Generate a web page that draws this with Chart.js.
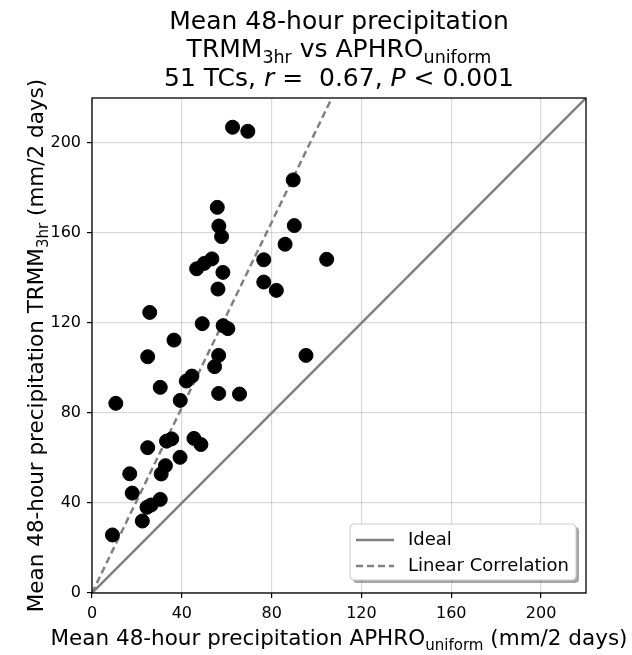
<!DOCTYPE html>
<html>
<head>
<meta charset="utf-8">
<script src="https://cdn.jsdelivr.net/npm/chart.js@4.4.1/dist/chart.umd.min.js"></script>
<style>
  html, body { margin: 0; padding: 0; background: #fff; }
</style>
</head>
<body>
<canvas id="scatterChart" width="632" height="655"></canvas>
<script>
// Datos (mm/2 dias)
const aphro = [62.6, 69.4, 89.6, 55.8, 56.5, 57.7, 90.1, 86.0, 76.5, 104.5,
               76.5, 82.1, 95.3, 46.6, 50.0, 53.4, 58.3, 56.1, 25.7, 49.1,
               58.4, 60.5, 36.5, 24.8, 56.4, 54.6, 44.5, 42.0, 30.4, 56.4,
               65.7, 10.6, 39.3, 33.2, 35.5, 45.4, 48.5, 24.8, 39.2, 32.7,
               30.8, 16.8, 17.9, 30.4, 26.3, 24.5, 22.4, 9.1];
const trmm = [207.0, 205.2, 183.6, 171.4, 163.1, 158.4, 163.3, 155.0, 148.1, 148.3,
              138.2, 134.5, 105.6, 144.1, 146.5, 148.5, 142.5, 135.1, 124.7, 119.7,
              118.8, 117.5, 112.4, 105.0, 105.6, 100.6, 96.4, 94.2, 91.4, 88.7,
              88.4, 84.3, 85.6, 67.5, 68.5, 68.7, 66.0, 64.6, 60.3, 56.6,
              52.9, 53.0, 44.4, 41.6, 39.1, 38.1, 32.0, 25.8];
const idealX = [0, 220];
const idealY = [0, 220];
const fitX = [0, 106.8];
const fitY = [0, 220];
const axisTicks = [0, 40, 80, 120, 160, 200];

const FONT = '"DejaVu Sans", sans-serif';
const GRAY = '#808080';

function toPoints(xs, ys) {
    return xs.map((x, i) => ({ x: x, y: ys[i] }));
}

// texto con subindices / cursiva
function runFont(r, size) {
    const s = r.sub ? size * 0.7 : size;
    return (r.italic ? 'italic ' : '') + s + 'px ' + FONT;
}
function drawRich(ctx, runs, cx, baseY, size) {
    let w = 0;
    runs.forEach(r => { ctx.font = runFont(r, size); w += ctx.measureText(r.t).width; });
    let x = cx - w / 2;
    ctx.textAlign = 'left';
    ctx.textBaseline = 'alphabetic';
    runs.forEach(r => {
        ctx.font = runFont(r, size);
        ctx.fillText(r.t, x, r.sub ? baseY + size * 0.22 : baseY);
        x += ctx.measureText(r.t).width;
    });
}

const textPlugin = {
    id: 'textPlugin',
    afterDraw(chart) {
        const ctx = chart.ctx;
        const a = chart.chartArea;
        const cx = (a.left + a.right) / 2;
        ctx.save();
        ctx.fillStyle = '#000';

        // marco
        ctx.strokeStyle = '#000';
        ctx.lineWidth = 1.3;
        ctx.strokeRect(a.left, a.top, a.right - a.left, a.bottom - a.top);

        // titulo
        drawRich(ctx, [{ t: 'Mean 48-hour precipitation' }], cx, 29, 25);
        drawRich(ctx, [{ t: 'TRMM' }, { t: '3hr', sub: true }, { t: ' vs APHRO' }, { t: 'uniform', sub: true }], cx, 57, 25);
        drawRich(ctx, [{ t: '51 TCs, ' }, { t: 'r', italic: true }, { t: ' =  0.67, ' }, { t: 'P', italic: true }, { t: ' < 0.001' }], cx, 86, 25);

        // titulos de ejes
        drawRich(ctx, [{ t: 'Mean 48-hour precipitation APHRO' }, { t: 'uniform', sub: true }, { t: ' (mm/2 days)' }], cx, 645, 21.5);
        ctx.translate(35, (a.top + a.bottom) / 2);
        ctx.rotate(-Math.PI / 2);
        drawRich(ctx, [{ t: 'Mean 48-hour precipitation TRMM' }, { t: '3hr', sub: true }, { t: ' (mm/2 days)' }], 0, 8, 21.5);
        ctx.restore();

        // leyenda
        ctx.save();
        const lw = 226, lh = 56;
        const lx = a.right - 10 - lw, ly = a.bottom - 13 - lh;
        ctx.fillStyle = 'rgba(0,0,0,0.35)';
        ctx.beginPath(); ctx.roundRect(lx + 3, ly + 3, lw, lh, 4); ctx.fill();
        ctx.fillStyle = '#fff';
        ctx.strokeStyle = '#cccccc';
        ctx.lineWidth = 1;
        ctx.beginPath(); ctx.roundRect(lx, ly, lw, lh, 4); ctx.fill(); ctx.stroke();
        const items = [{ label: 'Ideal', dash: [] }, { label: 'Linear Correlation', dash: [7, 4] }];
        items.forEach((it, i) => {
            const yy = ly + 16 + i * 26;
            ctx.strokeStyle = GRAY;
            ctx.lineWidth = 2.5;
            ctx.setLineDash(it.dash);
            ctx.beginPath(); ctx.moveTo(lx + 6, yy); ctx.lineTo(lx + 44, yy); ctx.stroke();
            ctx.setLineDash([]);
            ctx.fillStyle = '#000';
            ctx.font = '18px ' + FONT;
            ctx.textAlign = 'left';
            ctx.textBaseline = 'middle';
            ctx.fillText(it.label, lx + 58, yy);
        });
        ctx.restore();
    }
};

const tickOpts = { color: '#000', font: { family: FONT, size: 16 }, padding: 6 };
const gridOpts = { color: 'rgba(0,0,0,0.15)', lineWidth: 1.2, tickLength: 5, tickColor: '#000', drawTicks: true };
const onlyTicks = axis => { axis.ticks = axisTicks.map(v => ({ value: v })); };

new Chart(document.getElementById('scatterChart').getContext('2d'), {
    type: 'scatter',
    data: {
        datasets: [
            {
                label: 'TCs',
                data: toPoints(aphro, trmm),
                backgroundColor: '#000',
                borderColor: '#000',
                pointRadius: 7,
                pointHoverRadius: 7,
                order: 0
            },
            {
                label: 'Ideal',
                type: 'line',
                data: toPoints(idealX, idealY),
                borderColor: GRAY,
                borderWidth: 2.5,
                pointRadius: 0,
                fill: false,
                order: 2
            },
            {
                label: 'Linear Correlation',
                type: 'line',
                data: toPoints(fitX, fitY),
                borderColor: GRAY,
                borderWidth: 2.5,
                borderDash: [7, 4],
                pointRadius: 0,
                fill: false,
                order: 1
            }
        ]
    },
    options: {
        responsive: false,
        animation: false,
        devicePixelRatio: 1,
        layout: { padding: { top: 98, right: 46, left: 0, bottom: 0 } },
        plugins: {
            legend: { display: false },
            tooltip: { enabled: false }
        },
        scales: {
            x: {
                type: 'linear', min: 0, max: 220,
                ticks: tickOpts,
                grid: gridOpts,
                border: { display: false },
                afterBuildTicks: onlyTicks,
                afterFit: s => { s.height = 62; }
            },
            y: {
                type: 'linear', min: 0, max: 220,
                ticks: tickOpts,
                grid: gridOpts,
                border: { display: false },
                afterBuildTicks: onlyTicks,
                afterFit: s => { s.width = 92; }
            }
        }
    },
    plugins: [textPlugin]
});
</script>
</body>
</html>
